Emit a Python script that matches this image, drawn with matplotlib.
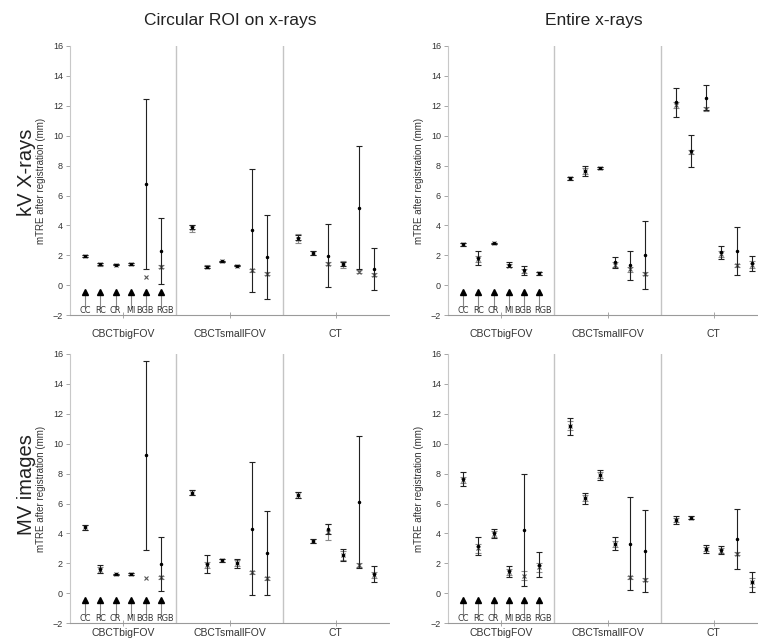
import numpy as np
import matplotlib
matplotlib.use("Agg")
import matplotlib.pyplot as plt
from matplotlib import font_manager

plt.rcParams['font.family'] = ['Liberation Sans', 'DejaVu Sans']

# ---------------------------------
# Data (18 cases: 3 volumes x 6 similarity measures)
# ---------------------------------
groups = ["CBCTbigFOV", "CBCTsmallFOV", "CT"]
measures = ["CC", "RC", "CR", "MI", "BGB", "RGB"]
col_titles = ["Circular ROI on x-rays", "Entire x-rays"]
row_titles = ["kV X-rays", "MV images"]
ylabel = "mTRE after registration (mm)"

# kV x-rays, circular ROI
kv_roi_mean = [1.95, 1.42, 1.38, 1.42, 6.77, 2.30, 3.90, 1.25, 1.60, 1.31, 3.67, 1.92, 3.18, 2.18, 1.98, 1.42, 5.20, 1.10]
kv_roi_err = [0.05, 0.08, 0.05, 0.05, 5.67, 2.20, 0.15, 0.06, 0.05, 0.05, 4.10, 2.80, 0.15, 0.12, 2.10, 0.12, 4.10, 1.40]
kv_roi_med = [1.95, 1.40, 1.38, 1.42, 0.53, 1.25, 3.80, 1.25, 1.60, 1.31, 1.02, 0.76, 3.12, 2.16, 1.43, 1.40, 0.92, 0.70]
kv_roi_mederr = [0.05, 0.12, 0.05, 0.05, 0.0, 0.12, 0.25, 0.08, 0.05, 0.05, 0.10, 0.10, 0.30, 0.15, 0.10, 0.22, 0.10, 0.10]

# kV x-rays, entire image
kv_full_mean = [2.74, 1.82, 2.80, 1.38, 1.00, 0.80, 7.17, 7.66, 7.84, 1.53, 1.34, 2.05, 12.22, 8.95, 12.54, 2.20, 2.30, 1.47]
kv_full_err = [0.08, 0.47, 0.06, 0.18, 0.28, 0.10, 0.10, 0.33, 0.08, 0.39, 0.95, 2.27, 0.95, 1.07, 0.82, 0.45, 1.60, 0.49]
kv_full_med = [2.74, 1.76, 2.80, 1.31, 0.95, 0.80, 7.17, 7.64, 7.84, 1.38, 1.07, 0.76, 12.03, 8.91, 11.76, 2.10, 1.35, 1.38]
kv_full_mederr = [0.08, 0.20, 0.06, 0.10, 0.15, 0.08, 0.10, 0.20, 0.08, 0.15, 0.15, 0.10, 0.20, 0.15, 0.12, 0.20, 0.10, 0.25]

# MV images, circular ROI
mv_roi_mean = [4.41, 1.63, 1.27, 1.27, 9.22, 1.94, 6.73, 1.94, 2.20, 2.00, 4.32, 2.72, 6.57, 3.50, 4.30, 2.56, 6.08, 1.30]
mv_roi_err = [0.18, 0.26, 0.05, 0.06, 6.30, 1.80, 0.18, 0.60, 0.08, 0.28, 4.43, 2.80, 0.20, 0.15, 0.35, 0.40, 4.40, 0.55]
mv_roi_med = [4.41, 1.56, 1.27, 1.27, 1.00, 1.07, 6.73, 1.87, 2.20, 2.00, 1.40, 1.00, 6.57, 3.50, 4.10, 2.56, 1.90, 1.20]
mv_roi_mederr = [0.15, 0.20, 0.05, 0.06, 0.0, 0.10, 0.18, 0.20, 0.08, 0.20, 0.10, 0.10, 0.20, 0.12, 0.55, 0.30, 0.15, 0.20]

# MV images, entire image
mv_full_mean = [7.62, 3.18, 4.00, 1.48, 4.23, 1.90, 11.15, 6.35, 7.90, 3.32, 3.32, 2.83, 4.90, 5.06, 2.96, 2.88, 3.63, 0.75]
mv_full_err = [0.46, 0.60, 0.32, 0.37, 3.73, 0.83, 0.55, 0.37, 0.35, 0.42, 3.11, 2.76, 0.27, 0.10, 0.25, 0.25, 2.00, 0.65]
mv_full_med = [7.57, 3.00, 3.99, 1.43, 1.18, 1.74, 11.18, 6.35, 7.90, 3.30, 1.07, 0.91, 4.90, 5.06, 2.96, 2.85, 2.63, 0.73]
mv_full_mederr = [0.20, 0.30, 0.20, 0.20, 0.30, 0.30, 0.30, 0.20, 0.20, 0.20, 0.10, 0.10, 0.15, 0.08, 0.15, 0.15, 0.10, 0.30]

panels = [
    (kv_roi_mean, kv_roi_err, kv_roi_med, kv_roi_mederr),
    (kv_full_mean, kv_full_err, kv_full_med, kv_full_mederr),
    (mv_roi_mean, mv_roi_err, mv_roi_med, mv_roi_mederr),
    (mv_full_mean, mv_full_err, mv_full_med, mv_full_mederr),
]

# x positions: 1..6, 8..13, 15..20 with separators at 7 and 14
xpos = np.concatenate([np.arange(1, 7) + 7 * g for g in range(3)])
group_centers = [3.5 + 7 * g for g in range(3)]
# small sideways nudge of the crowded measure labels (as in the original)
label_nudge = [0, 0, 0, 0, -0.07, 0.25]

# condensed face for the crowded measure labels, if one is installed
cond = [f for f in font_manager.fontManager.ttflist
        if f.stretch in ('condensed', 'semi-condensed') and f.style == 'normal'
        and f.weight in (400, 'normal', 'regular')]
if cond:
    label_font = font_manager.FontProperties(fname=cond[0].fname, size=6.6)
else:
    label_font = font_manager.FontProperties(family=['Roboto', 'DejaVu Sans'], size=6)

# ---------------------------------
# Figure
# ---------------------------------
W, H = 758, 641
fig = plt.figure(figsize=(W / 100, H / 100), dpi=100)

lefts = [70 / W, 448 / W]
bottoms = [1 - 315.3 / H, 1 - 623.3 / H]
aw = 319 / W
ah = 269.5 / H
xpads = [8, 1.5]

axes = []
for r in range(2):
    for c in range(2):
        ax = fig.add_axes([lefts[c], bottoms[r], aw, ah])
        axes.append((ax, r))

for i, (ax, r) in enumerate(axes):
    mean, err, med, mederr = [np.asarray(a) for a in panels[i]]

    for sep in [7, 14]:
        ax.axvline(sep, color='#c4c4c4', lw=1.0, zorder=1)

    # median (gray x) with its small spread where there is one
    has = mederr > 0
    ax.errorbar(xpos[has], med[has], yerr=mederr[has], fmt='none',
                ecolor='#8a8a8a', elinewidth=0.8, capsize=2, capthick=0.8, zorder=2)
    ax.plot(xpos, med, 'x', ms=3.5, mew=0.8, color='#555555', zorder=2)
    # mean +- std (black)
    ax.errorbar(xpos, mean, yerr=err, fmt='.', ms=3, color='black',
                ecolor='#222222', elinewidth=0.8, capsize=2, capthick=0.8, zorder=3)

    # arrows + measure labels under the first group
    for k, name in enumerate(measures):
        x = xpos[k]
        ax.plot([x, x], [-1.5, -0.5], color='#888888', lw=0.8, zorder=2)
        ax.plot(x, -0.45, marker='^', ms=4, color='black', zorder=3)
        ax.text(x + label_nudge[k], -1.97, name, ha='center', va='bottom', color='#333333',
                fontproperties=label_font)

    ax.set_xlim(0, 21)
    ax.set_ylim(-2, 16)
    ax.set_yticks(np.arange(-2, 17, 2))
    ax.set_xticks(group_centers)
    ax.set_xticklabels(groups)

    ax.spines['top'].set_visible(False)
    ax.spines['right'].set_visible(False)
    ax.spines['left'].set_color('#c8c8c8')
    ax.spines['bottom'].set_color('#9a9a9a')
    ax.spines['bottom'].set_linestyle((0, (2, 1)))
    ax.spines['left'].set_linewidth(0.8)
    ax.spines['bottom'].set_linewidth(0.8)

    ax.tick_params(axis='y', direction='out', length=3, width=0.6, color='#999999',
                   labelsize=6.5, labelcolor='#333333', pad=2)
    ax.tick_params(axis='x', direction='inout', length=4, width=0.6, color='#999999',
                   labelsize=7.5, labelcolor='#333333', pad=xpads[r])

    ax.set_ylabel(ylabel, fontsize=7, color='#333333', labelpad=5)

# column titles
fig.text(230 / W, 1 - 20 / H, col_titles[0], ha='center', va='center', fontsize=12.5, color='#222222')
fig.text(594 / W, 1 - 20 / H, col_titles[1], ha='center', va='center', fontsize=12.5, color='#222222')

# row titles
fig.text(27 / W, 1 - 172 / H, row_titles[0], ha='center', va='center', rotation=90, fontsize=14.5, color='#222222')
fig.text(27 / W, 1 - 485 / H, row_titles[1], ha='center', va='center', rotation=90, fontsize=14.5, color='#222222')

fig.savefig("out.png", dpi=100)
